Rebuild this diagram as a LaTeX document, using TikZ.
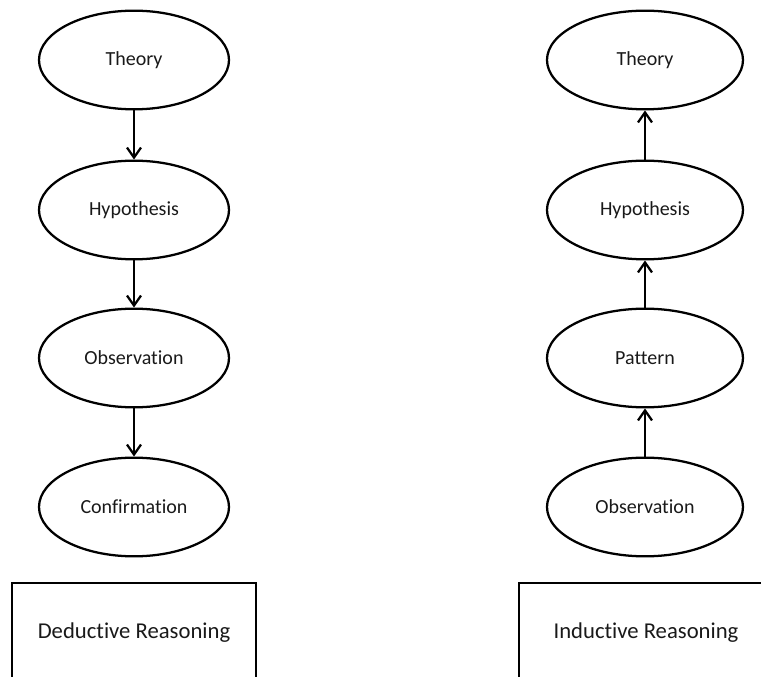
\documentclass[tikz,border=0pt]{standalone}
\usepackage{fontspec}
\setmainfont[Ligatures=NoCommon]{Carlito}
\usetikzlibrary{shapes.geometric,arrows.meta}
\begin{document}
\begin{tikzpicture}[x=0.75pt,y=-0.75pt,
  stage/.style={ellipse,draw=black,line width=1.7pt,inner sep=0pt,
    minimum width=142.5pt,minimum height=74pt,
    font=\fontsize{15}{18}\selectfont,text=black!90},
  stagewide/.style={stage,minimum width=147pt},
  flow/.style={line width=1.7pt,-{Straight Barb[length=7.5pt,width=10.5pt,line width=1.7pt]}},
  frame/.style={draw=black,line width=1.7pt},
  caption/.style={font=\fontsize{17}{20}\selectfont,text=black!90}]
\useasboundingbox (0,0) rectangle (761,677);
\clip (0,0) rectangle (761,677);

% deductive chain
\node[stage] (dtheory) at (134,60) {Theory};
\node[stage] (dhyp) at (134,210) {Hypothesis};
\node[stage] (dobs) at (134,358) {Observation};
\node[stage] (dconf) at (134,507) {Confirmation};
\draw[flow] (dtheory.south) -- (dhyp.north);
\draw[flow] (dhyp.south) -- (dobs.north);
\draw[flow] (dobs.south) -- (dconf.north);

% inductive chain
\node[stagewide] (itheory) at (645,60) {Theory};
\node[stagewide] (ihyp) at (645,210) {Hypothesis};
\node[stagewide] (ipat) at (645,358) {Pattern};
\node[stagewide] (iobs) at (645,507) {Observation};
\draw[flow] (iobs.north) -- (ipat.south);
\draw[flow] (ipat.north) -- (ihyp.south);
\draw[flow] (ihyp.north) -- (itheory.south);

% caption boxes, running past the lower edge
\draw[frame] (12,700) -- (12,583) -- (256,583) -- (256,700);
\node[caption] (dcap) at (134,633) {Deductive Reasoning};
\draw[frame] (519,700) -- (519,583) -- (800,583);
\node[caption] (icap) at (646,633) {Inductive Reasoning};
\end{tikzpicture}
\end{document}
